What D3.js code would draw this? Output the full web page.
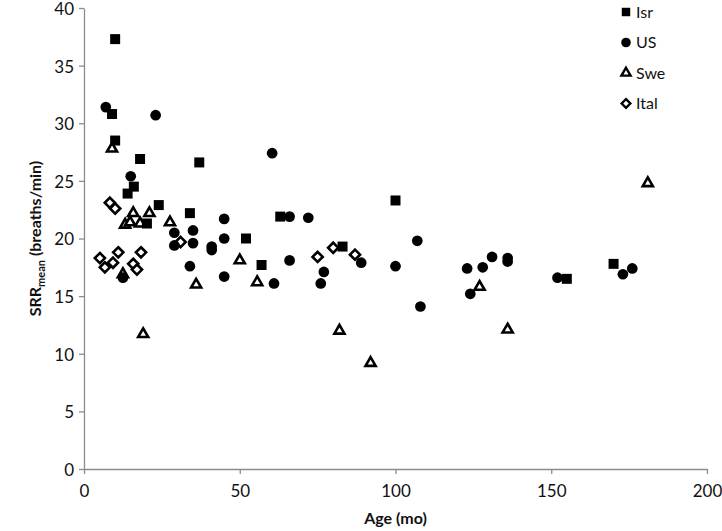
<!DOCTYPE html>
<html><head><meta charset="utf-8">
<script src="https://cdn.jsdelivr.net/npm/d3@7"></script>
<style>body{margin:0;background:#fff;} svg{display:block;font-family:Lato,"Open Sans",sans-serif;}</style>
</head><body>
<svg id="c" width="722" height="531"></svg>
<script>
const xTicks = [0, 50, 100, 150, 200];
const yTicks = [0, 5, 10, 15, 20, 25, 30, 35, 40];
const seriesNames = ["Isr", "US", "Swe", "Ital"];
const isrData = [[10,37.3],[9,30.8],[10,28.5],[18,26.9],[37,26.6],[16,24.5],[14,23.9],[24,22.9],[34,22.2],[20.2,21.3],[52,20.0],[57,17.7],[63,21.9],[83,19.3],[100,23.3],[155,16.5],[170,17.8]];
const usData = [[7,31.4],[23,30.7],[15,25.4],[60.4,27.4],[29,20.5],[29,19.4],[35,20.7],[35,19.6],[45,21.7],[45,20.0],[41,19.0],[41,19.3],[34,17.6],[45,16.7],[12.5,16.6],[66,21.9],[72,21.8],[66,18.1],[61,16.1],[77,17.1],[76,16.1],[89,17.9],[100,17.6],[107,19.8],[108,14.1],[123,17.4],[128,17.5],[131,18.4],[136,18.3],[136,18.0],[124,15.2],[152,16.6],[173,16.9],[176,17.4]];
const sweData = [[9,27.8],[15.8,22.2],[21,22.2],[13.2,21.2],[14.8,21.4],[18,21.3],[27.6,21.4],[50,18.1],[36,16.0],[55.6,16.2],[19,11.7],[82,12.0],[92,9.2],[127,15.8],[136,12.1],[181,24.8],[12.5,16.9]];
const italData = [[8.3,23.1],[10,22.6],[5.1,18.3],[6.7,17.5],[9.3,17.9],[11,18.8],[18.3,18.8],[15.8,17.8],[17,17.3],[31,19.7],[75,18.4],[80,19.2],[87,18.6]];

const svg = d3.select("#c");
const x = d3.scaleLinear().domain([0,200]).range([84,707]);
const y = d3.scaleLinear().domain([0,40]).range([469,8]);
const axisColor = "#8c8c8c";

const gx = svg.append("g").attr("transform","translate(0,469)")
  .call(d3.axisBottom(x).tickValues(xTicks).tickSize(5).tickSizeOuter(0));
const gy = svg.append("g").attr("transform","translate(84,0)")
  .call(d3.axisLeft(y).tickValues(yTicks).tickSize(5).tickSizeOuter(0));
[gx,gy].forEach(g=>{
  g.selectAll("path,line").attr("stroke",axisColor).attr("stroke-width",1.3);
  g.selectAll("text").attr("fill","#111").style("font-size","17px").style("font-family","Lato,'Open Sans',sans-serif");
});
gx.selectAll("text").attr("dy","1.15em");
gy.selectAll("text").attr("x",-10).attr("dy","0.38em");

svg.append("text").attr("x",(x(0)+x(200))/2).attr("y",524).attr("text-anchor","middle")
  .attr("font-weight","bold").attr("font-size","16px").attr("fill","#111").text("Age (mo)");
const yl = svg.append("text").attr("transform","translate(41,"+((y(0)+y(40))/2)+") rotate(-90)")
  .attr("text-anchor","middle").attr("font-weight","bold").attr("font-size","16px").attr("fill","#111");
yl.append("tspan").text("SRR");
yl.append("tspan").attr("font-size","11px").attr("dy","4").text("mean");
yl.append("tspan").attr("dy","-4").text(" (breaths/min)");

const sq = d3.symbol().type(d3.symbolSquare).size(100);
const ci = d3.symbol().type(d3.symbolCircle).size(90);
const tr = d3.symbol().type(d3.symbolTriangle).size(44);
const di = d3.symbol().type(d3.symbolDiamond2).size(66);

function drawSeries(data, path, fill, stroke, sw){
  svg.append("g").selectAll("path").data(data).join("path")
    .attr("d", path)
    .attr("transform", d=>`translate(${x(d[0])},${y(d[1])})`)
    .attr("fill", fill).attr("stroke", stroke).attr("stroke-width", sw);
}
drawSeries(italData, di(), "#fff", "#000", 2.6);
drawSeries(sweData, tr(), "#fff", "#000", 2.6);
drawSeries(usData, ci(), "#000", "none", 0);
drawSeries(isrData, sq(), "#000", "none", 0);

// legend
const legend = [
  {name:seriesNames[0], d:d3.symbol().type(d3.symbolSquare).size(72)(), fill:"#000", stroke:"none", sw:0},
  {name:seriesNames[1], d:d3.symbol().type(d3.symbolCircle).size(72)(), fill:"#000", stroke:"none", sw:0},
  {name:seriesNames[2], d:d3.symbol().type(d3.symbolTriangle).size(36)(), fill:"#fff", stroke:"#000", sw:2.4},
  {name:seriesNames[3], d:d3.symbol().type(d3.symbolDiamond2).size(48)(), fill:"#fff", stroke:"#000", sw:2.4}
];
const lg = svg.append("g");
legend.forEach((l,i)=>{
  const yy = 12 + i*30.5;
  lg.append("path").attr("d", l.d)
    .attr("transform",`translate(626,${yy})`).attr("fill",l.fill).attr("stroke",l.stroke).attr("stroke-width",l.sw);
  lg.append("text").attr("x",636).attr("y",yy).attr("dy","0.36em").attr("font-size","16px").attr("fill","#111").text(l.name);
});
</script>
</body></html>
